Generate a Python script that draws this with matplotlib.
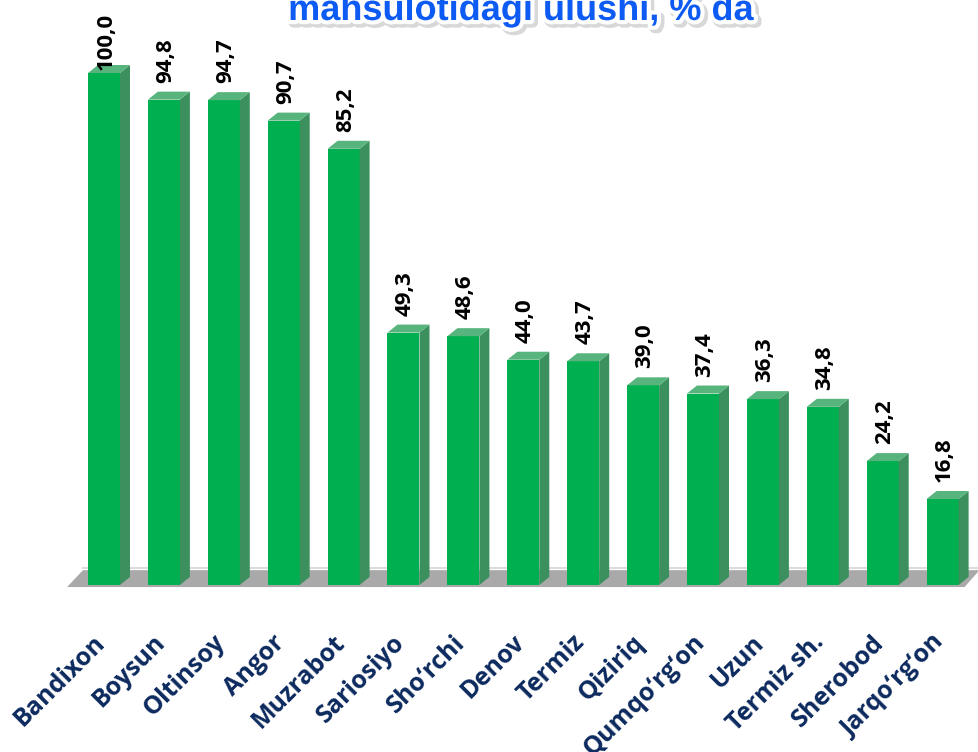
import matplotlib
matplotlib.use('Agg')
import matplotlib.pyplot as plt
import matplotlib.patheffects as pe
from matplotlib.patches import Polygon
from matplotlib.transforms import ScaledTranslation

# Data
districts = ['Bandixon', 'Boysun', 'Oltinsoy', 'Angor', 'Muzrabot', 'Sariosiyo',
             'Sho\u2018rchi', 'Denov', 'Termiz', 'Qiziriq', 'Qumqo\u2018rg\u2018on',
             'Uzun', 'Termiz sh.', 'Sherobod', 'Jarqo\u2018rg\u2018on']
shares = [100.0, 94.8, 94.7, 90.7, 85.2, 49.3, 48.6, 44.0, 43.7, 39.0,
          37.4, 36.3, 34.8, 24.2, 16.8]
title = 'mahsulotidagi ulushi, % da'

W, H = 979, 752
fig = plt.figure(figsize=(W / 100, H / 100), dpi=100)

# axes placed so bar centres step ~60px and 100% = ~512px
step_px = 59.9
unit_px = 5.12
first_center = 104
base_px = 585
n = len(districts)
left = first_center - step_px / 2
ax = fig.add_axes([left / W, (H - base_px) / H, n * step_px / W, 100 * unit_px / H])
ax.set_xlim(-0.5, n - 0.5)
ax.set_ylim(0, 100)
ax.axis('off')

bw = 32 / step_px          # front face width
dx = 10 / step_px          # depth offset (x)
dy = 8 / unit_px           # depth offset (y)

front = '#00b050'
side = '#3b905e'
top = '#58b47d'

# floor slab
fx0, fx1 = -0.5 - 7 / step_px, n - 0.5 - 8 / step_px
floor = Polygon([(fx0, -0.4), (fx1, -0.4), (fx1 + 15 / step_px, 2.9), (fx0 + 16 / step_px, 2.9)],
                closed=True, facecolor='#a9a9a9', edgecolor='none', zorder=1, clip_on=False)
ax.add_patch(floor)
ax.plot([fx0 + 16 / step_px, fx1 + 15 / step_px], [3.3, 3.3], color='#dcdcdc', lw=1.5,
        zorder=1, clip_on=False)

xs = list(range(n))
ax.bar(xs, shares, width=bw, color=front, zorder=3, linewidth=0)
for x, v in zip(xs, shares):
    xl, xr = x - bw / 2, x + bw / 2
    ax.add_patch(Polygon([(xr, 0), (xr + dx, dy), (xr + dx, v + dy), (xr, v)],
                         closed=True, facecolor=side, edgecolor='none', zorder=3, clip_on=False))
    ax.add_patch(Polygon([(xl, v), (xr, v), (xr + dx, v + dy), (xl + dx, v + dy)],
                         closed=True, facecolor=top, edgecolor='none', zorder=3, clip_on=False))
    ly = min(v + 17 / unit_px, 100 + 3 / unit_px)
    ax.text(x + 2 / step_px, ly, f'{v:.1f}'.replace('.', ','), rotation=90, ha='center',
            va='bottom', fontsize=16, fontweight='bold', family='Open Sans', color='black',
            zorder=4, clip_on=False)

# category labels
shift = ScaledTranslation(-11 / 100, 0, fig.dpi_scale_trans)
for x, name in zip(xs, districts):
    ax.text(x, -45 / unit_px, name, rotation=45, rotation_mode='anchor', ha='right', va='top',
            fontsize=18, fontweight='bold', family='Open Sans', color='#0c2a5e',
            transform=ax.transData + shift, clip_on=False)

fig.text(0.532, 1 - 20 / H, title, ha='center', va='baseline', fontsize=26, fontweight='bold',
         family='Liberation Sans', color='#0d5bf2',
         path_effects=[pe.Stroke(linewidth=7, foreground='#d8d8d8', offset=(2, -2)),
                       pe.Stroke(linewidth=6, foreground='white'), pe.Normal()])

fig.savefig('out.png', dpi=100, facecolor='white')
